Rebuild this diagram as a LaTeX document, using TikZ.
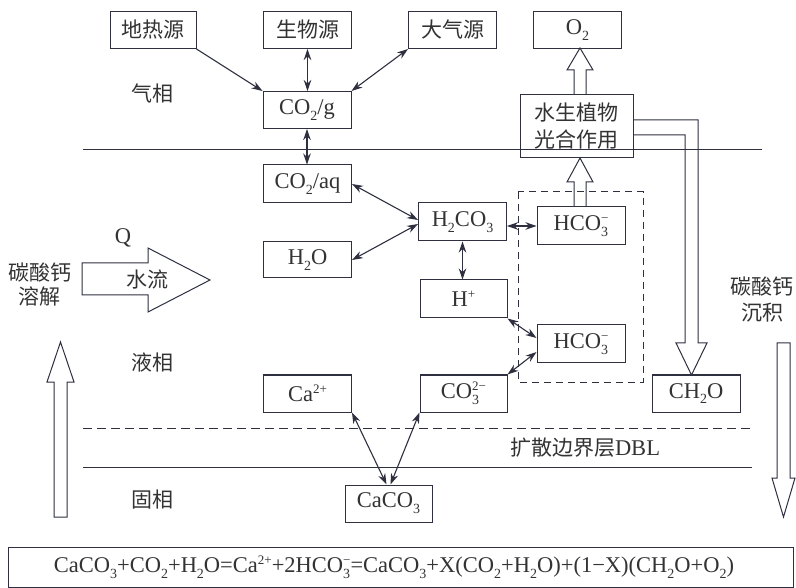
\documentclass[tikz,border=0pt]{standalone}
\usepackage{fontspec}
\setmainfont{Liberation Serif}
\newfontfamily\cjk{Noto Sans CJK SC}
\usetikzlibrary{arrows.meta}
\definecolor{ln}{HTML}{2E3040}
\definecolor{tx}{HTML}{333333}
\newcommand\csub[1]{\raisebox{-0.26em}{\fontsize{14}{14}\selectfont #1}}
\newcommand\csup[1]{\raisebox{0.36em}{\fontsize{13}{13}\selectfont #1}}
\newcommand\csubsup[2]{\rlap{\csub{#1}}\csup{#2}}
\begin{document}
\begin{tikzpicture}[x=1pt,y=-1pt,font=\fontsize{22.5}{24}\selectfont,
  box/.style={draw=ln, line width=1pt, minimum width=88pt, minimum height=37pt, inner sep=0pt, text=tx},
  lbl/.style={text=tx, inner sep=0pt},
  bi/.style={draw=ln, line width=1.1pt, {Stealth[length=11pt,width=7.5pt]}-{Stealth[length=11pt,width=7.5pt]}},
  uni/.style={draw=ln, line width=1.1pt, -{Stealth[length=11pt,width=7.5pt]}},
  hollow/.style={draw=ln, line width=1pt, line join=miter},
  sep/.style={draw=ln, line width=1pt},
  zh/.style={font=\fontsize{21}{24}\selectfont\cjk}]
\useasboundingbox[fill=white] (0,0) rectangle (796,588);

% separating lines
\draw[sep] (83,150) -- (762,150);
\draw[sep, dash pattern=on 9pt off 5pt] (83,428) -- (752,428);
\draw[sep] (83,467) -- (752,467);
\draw[sep, dash pattern=on 7pt off 5pt] (518,192) rectangle (643,382);

% boxes
\node[box, zh, minimum width=86pt] (geo) at (153,30) {地热源};
\node[box, zh] (bio) at (307.5,30) {生物源};
\node[box, zh] (atm) at (452.5,30) {大气源};
\node[box] (o2) at (577.5,30) {O\csub{2}};
\node[box] (co2g) at (307,110) {CO\csub{2}/g};
\node[box, minimum width=113pt, minimum height=63pt, align=center, font=\fontsize{21}{27}\selectfont\cjk] (photo) at (576.5,126.5) {水生植物\\光合作用};
\node[box, minimum height=38pt] (co2aq) at (307.5,184) {CO\csub{2}/aq};
\node[box, minimum height=36pt] (h2o) at (307.5,260) {H\csub{2}O};
\node[box, minimum height=38pt] (h2co3) at (462.5,222) {H\csub{2}CO\csub{3}};
\node[box, minimum height=38pt] (hco3a) at (581,226) {HCO\csubsup{3}{−}};
\node[box, minimum width=87pt, minimum height=38pt] (hplus) at (463.5,299) {H\csup{+}};
\node[box, minimum height=38pt] (hco3b) at (581,344) {HCO\csubsup{3}{−}};
\node[box, minimum width=87pt] (co3) at (463.5,393.5) {CO\csubsup{3}{2−}};
\node[box] (ca) at (307.5,393.5) {Ca\csup{2+}};
\node[box, minimum width=87pt] (caco3) at (388.5,503.5) {CaCO\csub{3}};
\node[box] (ch2o) at (696,393.5) {CH\csub{2}O};
\node[box, minimum width=785pt, minimum height=40pt] (eqbox) at (400.5,567) {};
\node[lbl] (eq) at (394,567)
 {CaCO\csub{3}+CO\csub{2}+H\csub{2}O=Ca\csup{2+}+2HCO\csubsup{3}{−}=CaCO\csub{3}+X(CO\csub{2}+H\csub{2}O)+(1−X)(CH\csub{2}O+O\csub{2})};

% labels
\node[lbl, zh] (gas) at (152,93) {气相};
\node[lbl, zh] (liq) at (152,362) {液相};
\node[lbl, zh] (sol) at (152,500) {固相};
\node[lbl] (q) at (123,238) {Q};
\node[lbl, zh] (flow) at (147,280) {水流};
\node[lbl, align=center, zh] (diss) at (40,285) {碳酸钙\\溶解};
\node[lbl, align=center, font=\fontsize{21}{26}\selectfont\cjk] (prec) at (762,300) {碳酸钙\\沉积};
\node[lbl] (dbl) at (585,448) {{\fontsize{21}{24}\selectfont\cjk 扩散边界层}DBL};

% connectors
\draw[uni] (geo.south east) -- (co2g.north west);
\draw[bi] (bio.south) -- (bio.south |- co2g.north);
\draw[bi] (atm.south west) -- (co2g.north east);
\draw[bi] (co2g.south) -- (co2g.south |- co2aq.north);
\draw[bi] (co2aq.east) -- ([yshift=2pt]h2co3.west);
\draw[bi] (h2o.east) -- ([yshift=-2pt]h2co3.west);
\draw[bi] (h2co3.east |- hco3a.west) -- (hco3a.west);
\draw[bi] (h2co3.south) -- (h2co3.south |- hplus.north);
\draw[bi] (hplus.south east) -- ([yshift=6pt]hco3b.west);
\draw[bi] (co3.north east) -- ([yshift=-8pt]hco3b.west);
\draw[bi] (ca.south east) -- ([xshift=-2pt]caco3.north);
\draw[bi] (co3.south west) -- ([xshift=2pt]caco3.north);

% hollow arrows
\draw[hollow] (574,95) -- (574,70) -- (567,70) -- (580,48) -- (593,70) -- (586,70) -- (586,95);
\draw[hollow] (574,207) -- (574,182) -- (567,182) -- (580,158) -- (593,182) -- (586,182) -- (586,207);
\draw[hollow] (633,120) -- (698,120) -- (698,343) -- (707,343) -- (691.5,375) -- (676,343) -- (685,343) -- (685,135) -- (633,135);
\draw[hollow] (54,517) -- (54,382) -- (47,382) -- (60.5,342) -- (74,382) -- (67,382) -- (67,517) -- cycle;
\draw[hollow] (777,343) -- (790,343) -- (790,478) -- (795,478) -- (783.5,517) -- (772,478) -- (777,478) -- cycle;
\draw[hollow] (82,263) -- (148,263) -- (148,248) -- (210,280) -- (148,312) -- (148,295) -- (82,295) -- cycle;
\end{tikzpicture}
\end{document}
